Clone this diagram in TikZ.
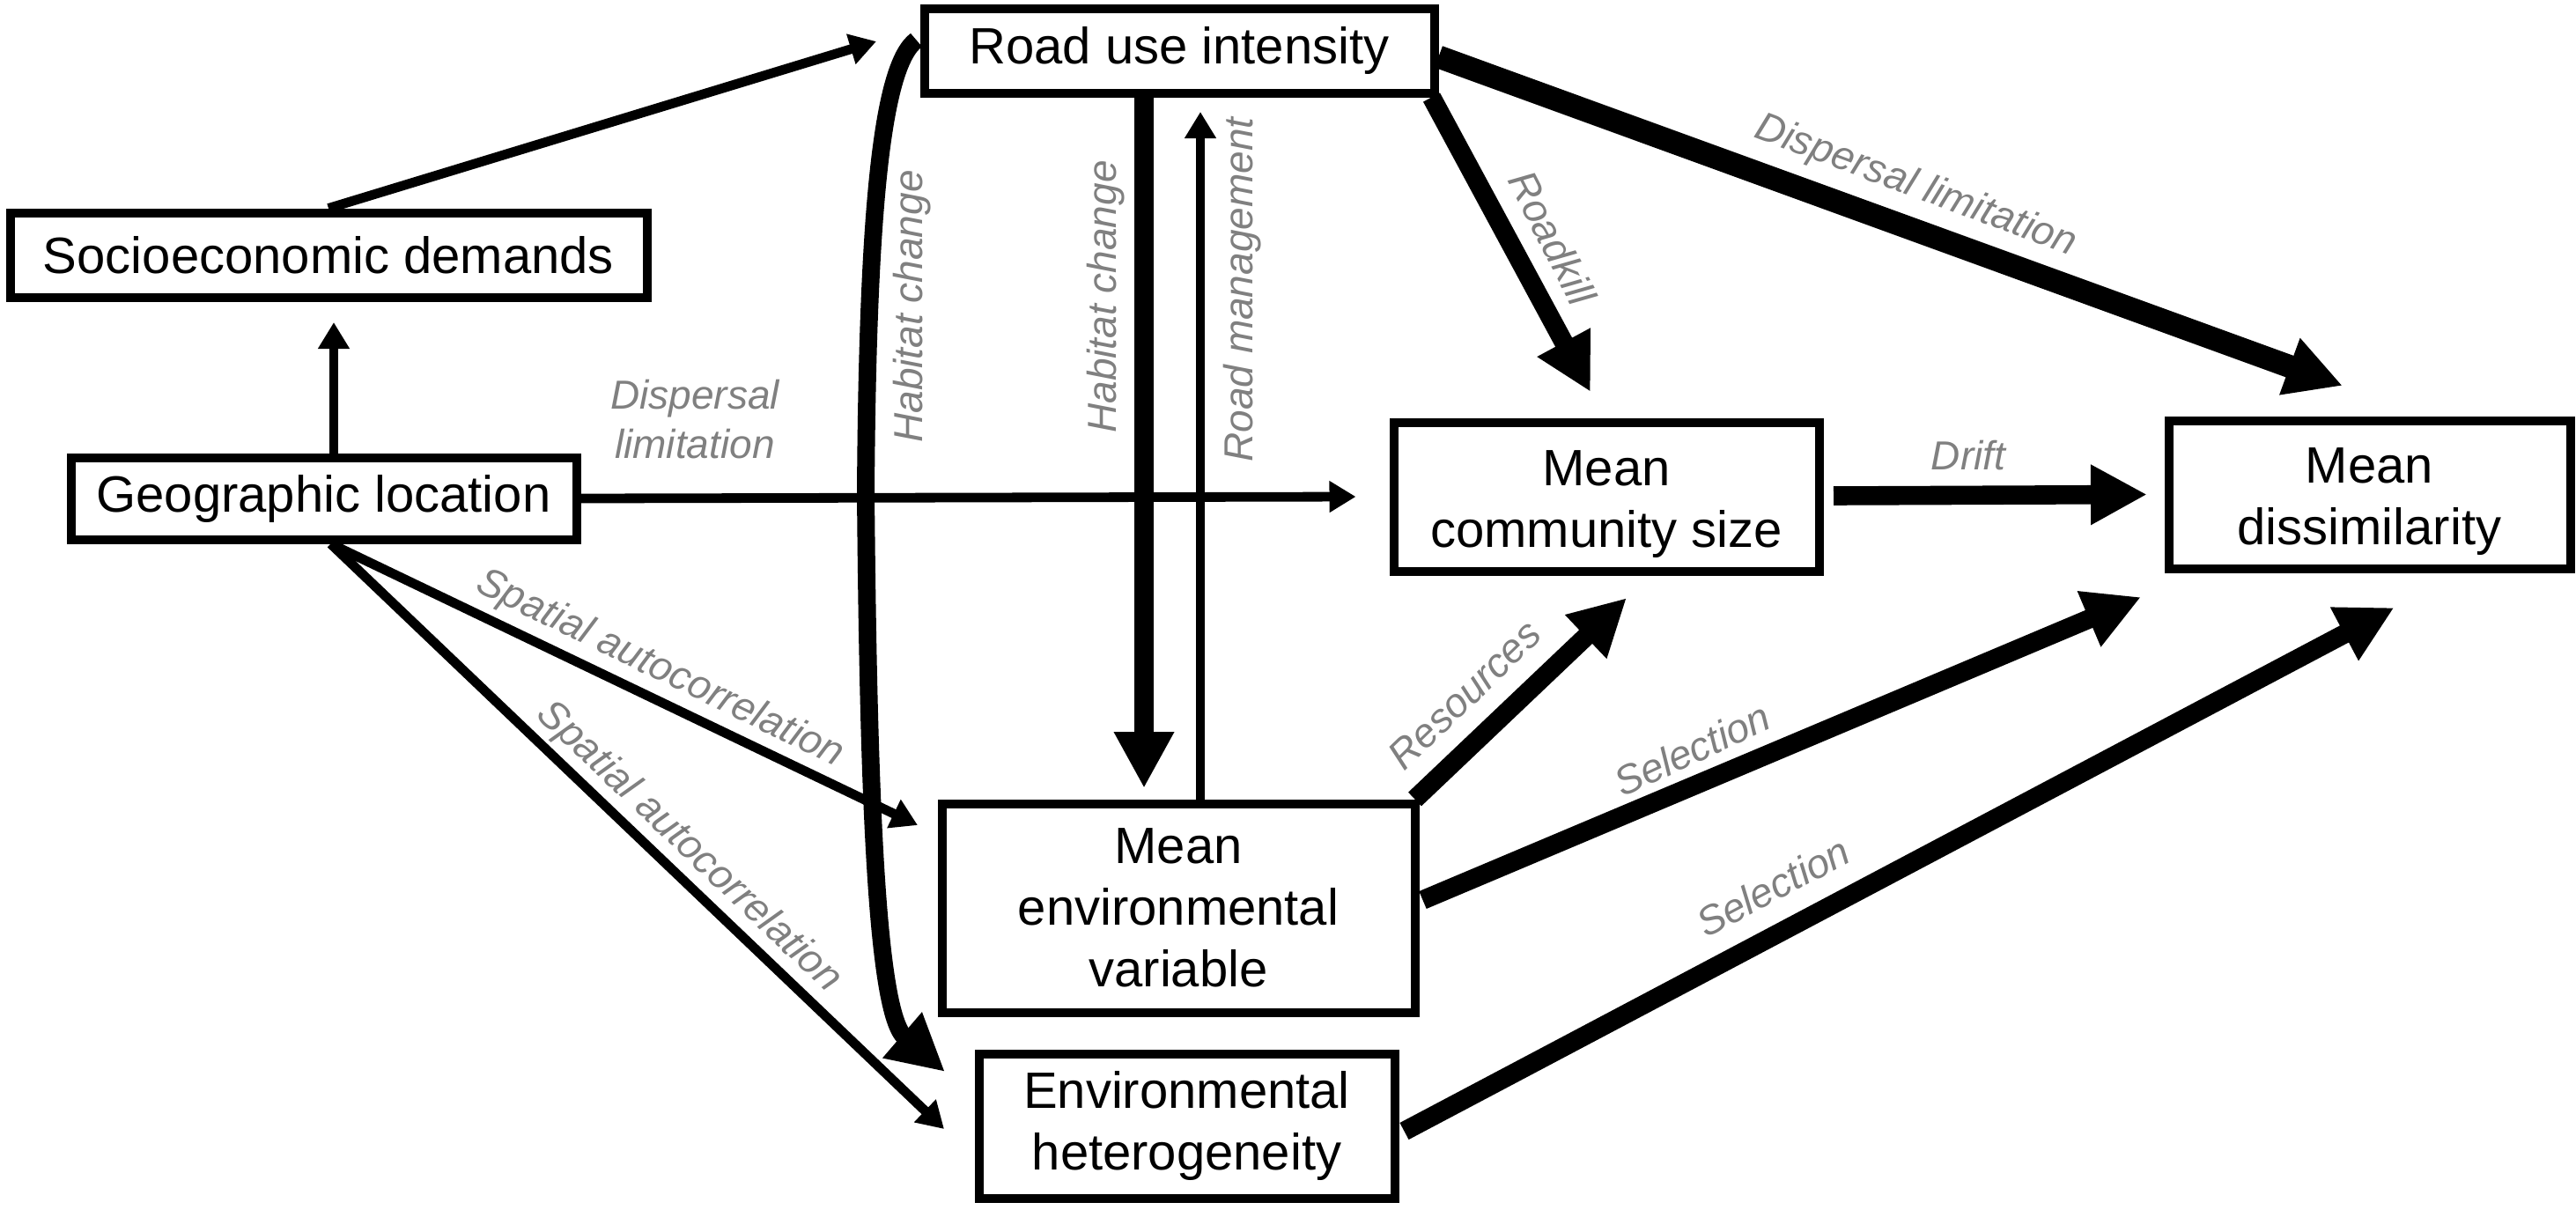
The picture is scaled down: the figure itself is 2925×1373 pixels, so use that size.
\documentclass[tikz,border=0pt]{standalone}
\usepackage{fontspec}
\setmainfont{Liberation Sans}
\usetikzlibrary{arrows.meta,calc}
\definecolor{lblgray}{RGB}{128,128,128}
\begin{document}
\begin{tikzpicture}[x=0.25pt,y=-0.25pt,
  box/.style={draw, line width=2.5pt, fill=white, inner sep=0pt, align=center,
    font=\fontsize{14.5}{17.5}\selectfont},
  lbl/.style={text=lblgray, font=\fontsize{11.5}{14}\selectfont\itshape, inner sep=0pt, align=center},
  thinarrow/.style={line width=2.7pt, -{Triangle[length=7.5pt,width=8.5pt]}},
  thickarrow/.style={line width=5.4pt, -{Triangle[length=16pt,width=16pt]}},
  heavyarrow/.style={line width=6.5pt, -{Triangle[length=16pt,width=16pt]}},
  curvearrow/.style={line width=5pt, -{Triangle[length=16pt,width=16pt]}},
]
\path[fill=white] (0,0) rectangle (2925,1373);
\useasboundingbox (0,0) rectangle (2925,1373);

% boxes
\node[box, minimum width=180.75pt, minimum height=24pt] (soc) at (373,289.5) {Socioeconomic demands};
\node[box, minimum width=143.5pt, minimum height=23.25pt] (geo) at (367.5,566) {Geographic location};
\node[box, minimum width=144.75pt, minimum height=24pt] (ri) at (1339,57.5) {Road use intensity};
\node[box, minimum width=120.75pt, minimum height=42.25pt] (mcs) at (1824,564) {\rule{0pt}{14.5pt}Mean\\community size};
\node[box, minimum width=114pt, minimum height=42pt] (dis) at (2690.5,561.5) {\rule{0pt}{14pt}Mean\\dissimilarity};
\node[box, minimum width=134.25pt, minimum height=59.25pt] (mev) at (1338,1031) {Mean\\environmental\\variable};
\node[box, minimum width=118pt, minimum height=41pt] (eh) at (1347.5,1278.5) {Environmental\\heterogeneity};

% connectors
\draw[thinarrow] (soc.north) -- ($(ri.west)+(-49.5,-10.5)$);
\draw[thinarrow] ($(geo.north)+(11.5,0)$) -- ($(soc.south)+(6,23.5)$);
\draw[thinarrow] (geo.east) -- ($(mcs.west)+(-38,0)$);
\draw[thinarrow] ($(geo.south)+(8,0)$) -- ($(mev.north west)+(-22.5,29.5)$);
\draw[thinarrow] ($(geo.south)+(8,0)$) -- ($(eh.west)+(-34.5,3.5)$);
\draw[curvearrow] ($(ri.west)+(-4,-12)$) .. controls (1000,75) and (985,250) .. (983,560)
   .. controls (986,900) and (995,1150) .. ($(eh.north west)+(-33.5,25.5)$);
\draw[thickarrow] ($(ri.south)+(-40,0)$) -- ($(mev.north)+(-39,-12.5)$);
\draw[thinarrow] ($(mev.north)+(25,0)$) -- ($(ri.south)+(24,16.5)$);
\draw[thickarrow] ($(ri.south east)+(-8,0)$) -- ($(mcs.north)+(-18,-29.5)$);
\draw[heavyarrow] ($(ri.east)+(0,7)$) -- ($(dis.north)+(-30.5,-34.5)$);
\draw[thickarrow] ($(mcs.east)+(11.5,-1)$) -- ($(dis.west)+(-19.5,0)$);
\draw[thickarrow] ($(mev.north east)+(-5,0)$) -- ($(mcs.south)+(23,25.5)$);
\draw[thickarrow] ($(mev.east)+(4,-9)$) -- ($(dis.south)+(-259.5,27.5)$);
\draw[thickarrow] ($(eh.east)+(6,6)$) -- ($(dis.south)+(28,39.5)$);

% labels
\node[lbl] (l1) at (789,476) {Dispersal\\limitation};
\node[lbl, rotate=90] (l2) at (1036,348) {Habitat change};
\node[lbl, rotate=90] (l3) at (1256,337) {Habitat change};
\node[lbl, rotate=90] (l4) at (1411,329) {Road management};
\node[lbl, rotate=-63] (l5) at (1763,270) {Roadkill};
\node[lbl, rotate=-20.5] (l6) at (2175,212) {Dispersal limitation};
\node[lbl] (l7) at (2235,517) {Drift};
\node[lbl, rotate=44] (l8) at (1663,789) {Resources};
\node[lbl, rotate=25] (l9) at (1921,851) {Selection};
\node[lbl, rotate=28] (l10) at (2013,1007) {Selection};
\node[lbl, rotate=-26] (l11) at (749,760) {Spatial autocorrelation};
\node[lbl, rotate=-43.5] (l12) at (782,962) {Spatial autocorrelation};
\end{tikzpicture}
\end{document}
